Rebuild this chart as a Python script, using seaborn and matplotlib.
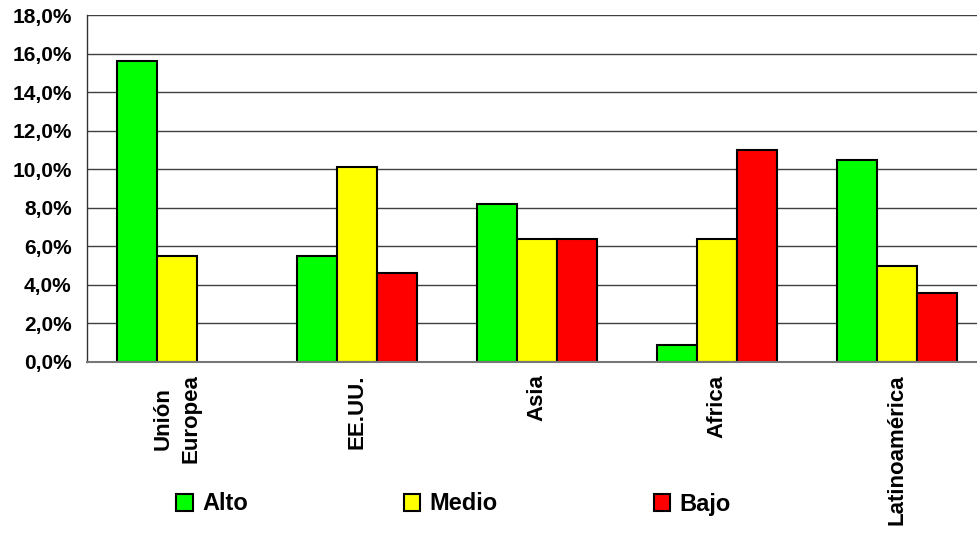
import numpy as np
import pandas as pd
import matplotlib
matplotlib.use('Agg')
import matplotlib.pyplot as plt
import seaborn as sns
from matplotlib.patches import Patch
from matplotlib.ticker import FuncFormatter, FixedLocator

# data (percent)
regiones = ['Unión\nEuropea', 'EE.UU.', 'Asia', 'Africa', 'Latinoamérica']
niveles = ['Alto', 'Medio', 'Bajo']
alto = [15.6, 5.5, 8.2, 0.9, 10.5]
medio = [5.5, 10.1, 6.4, 6.4, 5.0]
bajo = [np.nan, 4.6, 6.4, 11.0, 3.6]
colores = ['#00ff00', '#ffff00', '#ff0000']

df = pd.DataFrame({
    'region': regiones * 3,
    'nivel': [n for n in niveles for _ in regiones],
    'valor': alto + medio + bajo,
}).dropna()

sns.set_style('white')
plt.rcParams['font.family'] = ['Liberation Sans', 'DejaVu Sans']
plt.rcParams['font.weight'] = 'bold'
plt.rcParams['text.color'] = 'black'
plt.rcParams['xtick.color'] = 'black'
plt.rcParams['ytick.color'] = 'black'

W, H = 977, 537
fig = plt.figure(figsize=(W / 100, H / 100), dpi=100)
ax = fig.add_axes([87 / W, 175 / H, 900 / W, 347 / H])

sns.barplot(data=df, x='region', y='valor', hue='nivel', order=regiones,
            hue_order=niveles, palette=colores, saturation=1, width=2 / 3, gap=0,
            edgecolor='black', linewidth=1.5, legend=False, ax=ax)

ax.set_xlim(-0.5, len(regiones) - 0.5)
ax.set_ylim(0, 18)
ax.set_yticks(np.arange(0, 18.1, 2))
ax.yaxis.set_major_formatter(FuncFormatter(lambda v, p: f'{v:.1f}%'.replace('.', ',')))
ax.grid(axis='y', color='#404040', linewidth=1)
ax.set_axisbelow(True)

# ticks on category boundaries, labels at centres
ax.xaxis.set_minor_locator(FixedLocator(np.arange(0.5, len(regiones) - 0.5, 1)))
ax.tick_params(axis='x', which='major', length=0, pad=9)
ax.tick_params(axis='x', which='minor', length=6, width=1, color='#555555', direction='out')
ax.tick_params(axis='y', length=5, width=1, color='#404040', direction='out', labelsize=15, pad=6)
ax.set_xticks(range(len(regiones)))
ax.set_xticklabels(regiones, rotation=90, fontsize=16, fontweight='bold', va='top', linespacing=1.4)
for lab in ax.get_yticklabels():
    lab.set_fontweight('bold')

for s in ['top', 'right']:
    ax.spines[s].set_visible(False)
ax.spines['left'].set_color('#333333')
ax.spines['left'].set_linewidth(1)
ax.spines['bottom'].set_color('#777777')
ax.spines['bottom'].set_linewidth(1.5)
ax.set_xlabel('')
ax.set_ylabel('')

handles = [Patch(facecolor=c, edgecolor='black', linewidth=1.5) for c in colores]
fig.legend(handles, niveles, loc='center left', bbox_to_anchor=(155 / W, 1 - 504 / H),
           ncol=3, frameon=False, prop={'size': 17, 'weight': 'bold'},
           handlelength=0.7, handleheight=0.7, handletextpad=0.4, columnspacing=6.6)

fig.savefig('out.png', dpi=100)
